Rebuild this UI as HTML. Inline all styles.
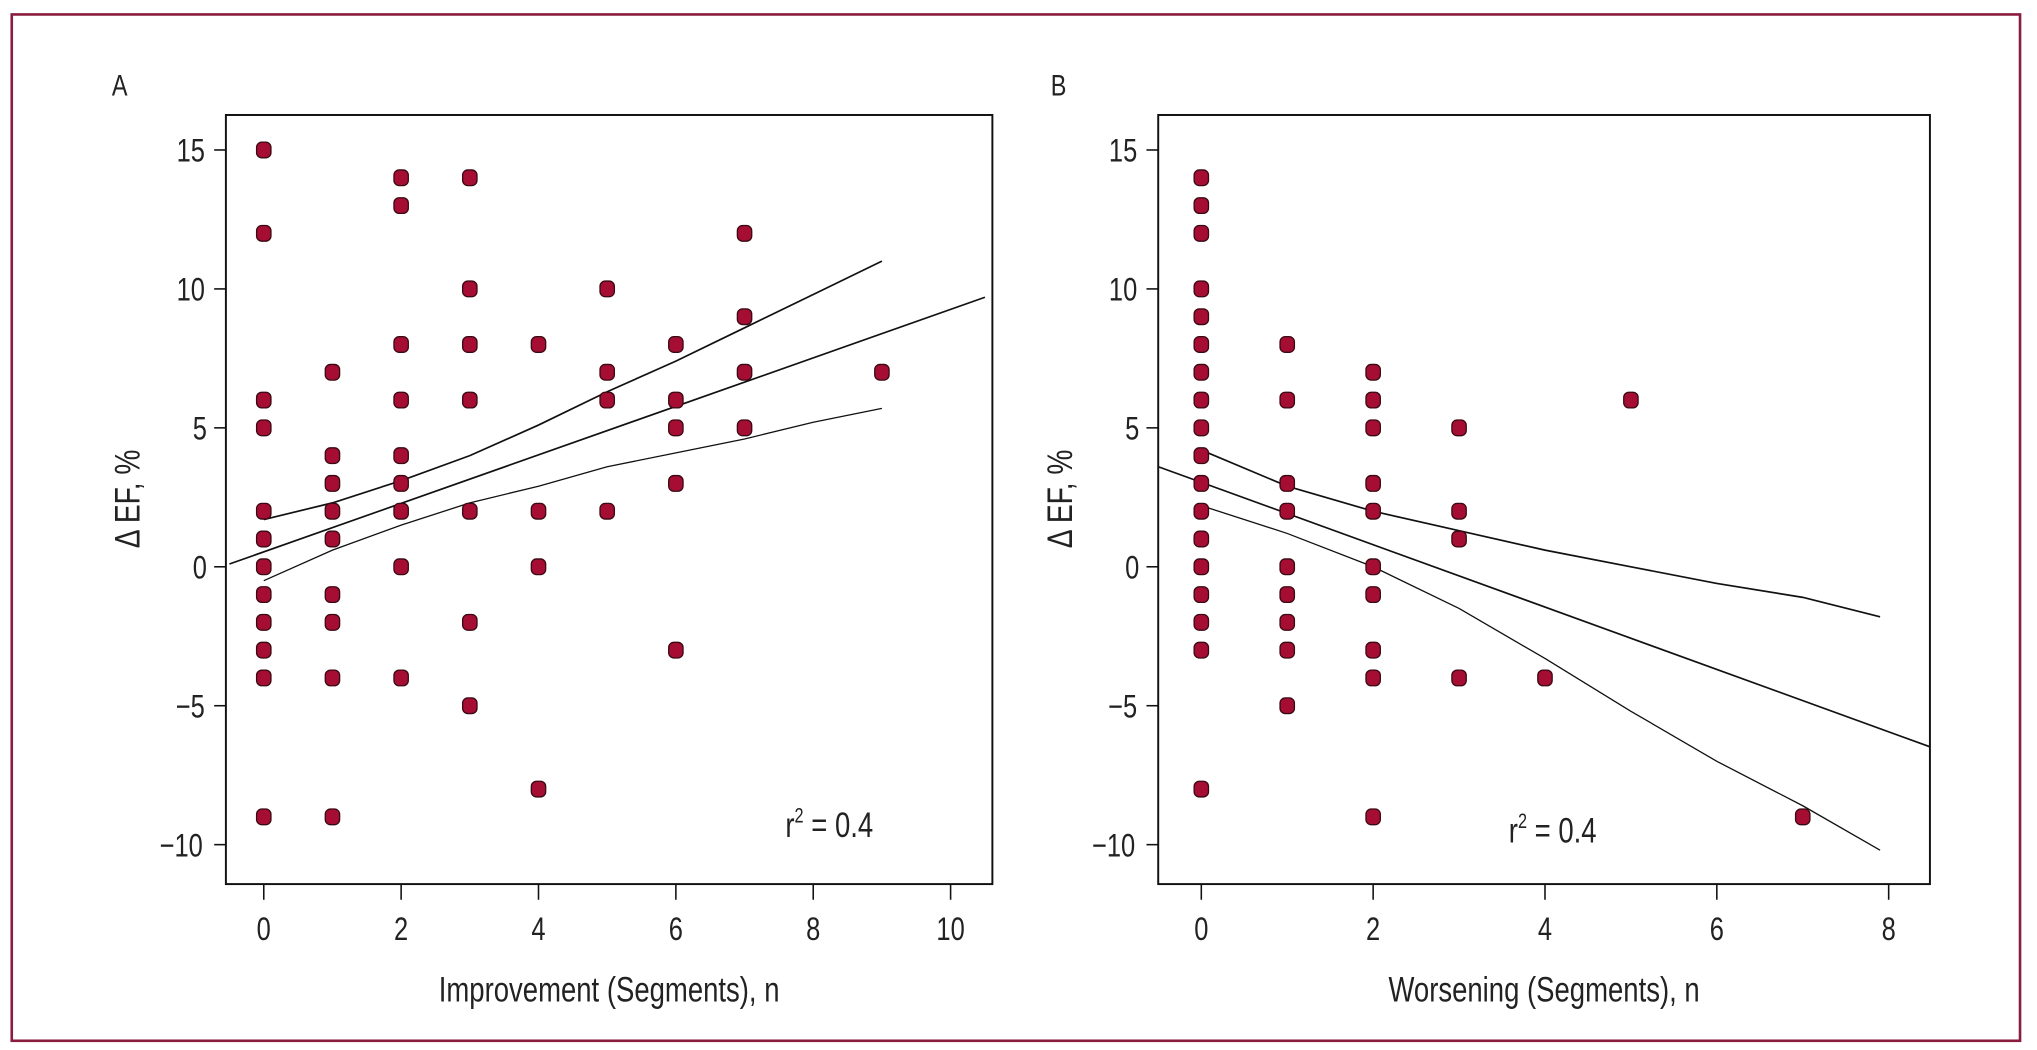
<!DOCTYPE html>
<html><head><meta charset="utf-8">
<style>
html,body{margin:0;padding:0;background:#fff;}
svg{display:block;}
text{font-family:"Liberation Sans Narrow","Liberation Sans",sans-serif;fill:#222;}
text.nx{transform-box:fill-box;transform-origin:center;transform:scaleX(0.78);}
</style></head>
<body>
<svg id="chart" width="2037" height="1050" viewBox="0 0 1560 804" xmlns="http://www.w3.org/2000/svg">
<rect x="9" y="11" width="1538" height="786" fill="none" stroke="#8a1d3f" stroke-width="2"/>
<g id="pA"></g>
<g id="pB"></g>
</svg>
<script>
const yTicks = [15, 10, 5, 0, -5, -10];
const xTicksA = [0, 2, 4, 6, 8, 10];
const xTicksB = [0, 2, 4, 6, 8];
const ptsAx = [0,0,0,0,0,0,0,0,0,0,0,0, 1,1,1,1,1,1,1,1,1, 2,2,2,2,2,2,2,2,2, 3,3,3,3,3,3,3, 4,4,4,4, 5,5,5,5, 6,6,6,6,6, 7,7,7,7, 9];
const ptsAy = [15,12,6,5,2,1,0,-1,-2,-3,-4,-9, 7,4,3,2,1,-1,-2,-4,-9, 14,13,8,6,4,3,2,0,-4, 14,10,8,6,2,-2,-5, 8,2,0,-8, 10,7,6,2, 8,6,5,3,-3, 12,9,7,5, 7];
const ptsBx = [0,0,0,0,0,0,0,0,0,0,0,0,0,0,0,0,0,0, 1,1,1,1,1,1,1,1,1, 2,2,2,2,2,2,2,2,2,2, 3,3,3,3, 4, 5, 7];
const ptsBy = [14,13,12,10,9,8,7,6,5,4,3,2,1,0,-1,-2,-3,-8, 8,6,3,2,0,-1,-2,-3,-5, 7,6,5,3,2,0,-1,-3,-4,-9, 5,2,1,-4, -4, 6, -9];
const fitAx = [-0.5, 10.5];
const fitAy = [0.1, 9.7];
const upAx = [0,1,2,3,4,5,6,7,8,9];
const upAy = [1.7,2.3,3.1,4.0,5.1,6.3,7.4,8.6,9.8,11.0];
const loAx = [0,1,2,3,4,5,6,7,8,9];
const loAy = [-0.5,0.6,1.5,2.3,2.9,3.6,4.1,4.6,5.2,5.7];
const fitBx = [-0.5, 8.5];
const fitBy = [3.6, -6.5];
const upBx = [0,1,2,3,4,5,6,7,7.9];
const upBy = [4.2,2.9,2.0,1.3,0.6,0.0,-0.6,-1.1,-1.8];
const loBx = [0,1,2,3,4,5,6,7,7.9];
const loBy = [2.2,1.2,0.0,-1.5,-3.3,-5.2,-7.0,-8.6,-10.2];

const NS = "http://www.w3.org/2000/svg";
function mk(parent, tag, attrs, txt){
  const e = document.createElementNS(NS, tag);
  for (const k in attrs) e.setAttribute(k, attrs[k]);
  if (txt !== undefined) e.textContent = txt;
  parent.appendChild(e);
  return e;
}
const Y = v => 434 - 21.28 * v;

function panel(g, cfg){
  const X = v => cfg.x0 + cfg.kx * v;
  const clipId = 'clip' + cfg.id;
  const defs = mk(g, 'defs', {});
  const cp = mk(defs, 'clipPath', {id: clipId});
  mk(cp, 'rect', {x: cfg.left, y: 88, width: cfg.right - cfg.left, height: 589});
  let el = mk(g, 'text', {x: cfg.labX, y: 73, 'font-size': 23, class: 'nx'});
  el.textContent = cfg.id;
  
  
  el = mk(g, 'rect', {x: cfg.left, y: 88, width: cfg.right - cfg.left, height: 589, fill: 'none', stroke: '#111', 'stroke-width': 1.5});
  
  
  yTicks.forEach(t => {
    let l = mk(g, 'line', {x1: cfg.left - 9, x2: cfg.left, y1: Y(t), y2: Y(t), stroke: '#111', 'stroke-width': 1.2});
    
    
    let tx = mk(g, 'text', {x: cfg.left - 13, y: Y(t) + 9, 'font-size': 25, 'text-anchor': 'end', class: 'nx'}, t < 0 ? '\u2212' + (-t) : String(t));
    
    
  });
  cfg.xt.forEach(t => {
    let l = mk(g, 'line', {x1: X(t), x2: X(t), y1: 677, y2: 689, stroke: '#111', 'stroke-width': 1.2});
    
    
    let tx = mk(g, 'text', {x: X(t), y: 720, 'font-size': 25, 'text-anchor': 'middle', class: 'nx'}, String(t));
    
    
  });
  el = mk(g, 'text', {x: (cfg.left + cfg.right) / 2, y: 767, 'font-size': 27, 'text-anchor': 'middle', class: 'nx'}, cfg.xlabel);
  
  
  el = mk(g, 'text', {x: 0, y: 0, 'font-size': 27, 'text-anchor': 'middle', transform: `translate(${cfg.left - 66},382) rotate(-90) scale(0.8,1)`}, '\u0394 EF, %');
  
  
  const lines = mk(g, 'g', {'clip-path': `url(#${clipId})`});
  function poly(xs, ys, name, w){
    const p = mk(lines, 'polyline', {points: xs.map((x, i) => X(x) + ',' + Y(ys[i])).join(' '), fill: 'none', stroke: '#111', 'stroke-width': w});
    
    
  }
  poly(cfg.fx, cfg.fy, 'regression-line', 1.3);
  poly(cfg.ux, cfg.uy, 'upper-confidence-band', 1.3);
  poly(cfg.lx, cfg.ly, 'lower-confidence-band', 1.0);
  cfg.px.forEach((x, i) => {
    const c = mk(g, 'rect', {x: X(x) - 5.5, y: Y(cfg.py[i]) - 6, width: 11, height: 12, rx: 4, fill: '#a50d33', stroke: '#3a0a14', 'stroke-width': 1});
    
    
  });
  const r = mk(g, 'text', {x: cfg.rx, y: cfg.ry, 'font-size': 27, class: 'nx'});
  
  
  mk(r, 'tspan', {}, 'r');
  mk(r, 'tspan', {dy: -11, 'font-size': 16}, '2');
  mk(r, 'tspan', {dy: 11}, ' = 0.4');
}

panel(document.getElementById('pA'), {id: 'A', left: 173, right: 760, x0: 202, kx: 52.6, xt: xTicksA, labX: 84,
  xlabel: 'Improvement (Segments), n', px: ptsAx, py: ptsAy, fx: fitAx, fy: fitAy, ux: upAx, uy: upAy, lx: loAx, ly: loAy, rx: 592, ry: 641});
panel(document.getElementById('pB'), {id: 'B', left: 887, right: 1478, x0: 920, kx: 65.8, xt: xTicksB, labX: 803,
  xlabel: 'Worsening (Segments), n', px: ptsBx, py: ptsBy, fx: fitBx, fy: fitBy, ux: upBx, uy: upBy, lx: loBx, ly: loBy, rx: 1146, ry: 645});
</script>
</body></html>
